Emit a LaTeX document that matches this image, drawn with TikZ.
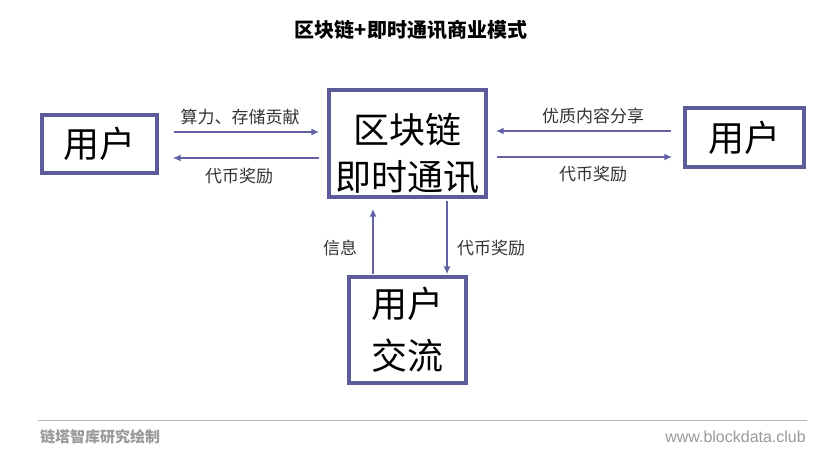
\documentclass[tikz,border=0pt]{standalone}
\usepackage{fontspec}
\setmainfont{Noto Sans CJK SC}
\newfontfamily\webfont{Liberation Sans}
\usetikzlibrary{arrows.meta,calc}
\definecolor{boxc}{HTML}{5C5C9A}
\definecolor{arrc}{HTML}{6262A2}
\definecolor{labc}{HTML}{333333}
\definecolor{footc}{HTML}{9A9A9A}
\definecolor{rulec}{HTML}{B4B4B4}
\tikzset{
  box/.style={draw=boxc, line width=3.4pt, inner sep=0pt, fill=white},
  boxtext/.style={inner sep=0pt, text=black, font=\fontsize{36}{36}\selectfont},
  lab/.style={inner sep=0pt, text=labc, font=\fontsize{17}{17}\selectfont},
  arr/.style={draw=arrc, line width=2pt, -{Latex[length=8pt,width=7pt]}},
}
\begin{document}
\begin{tikzpicture}[x=1pt,y=-1pt]
\fill[white] (0,0) rectangle (831,460);
\useasboundingbox (0,0) rectangle (831,460);

% title
\node[inner sep=0pt, font=\fontsize{20}{20}\selectfont\bfseries] (title) at (411,30) {区块链+即时通讯商业模式};

% boxes
\node[box, minimum width=115pt, minimum height=58pt, boxtext] (L) at (99.5,144) {用户};
\node[box, minimum width=157pt, minimum height=107pt] (C) at (407.5,143.5) {};
\node[boxtext, align=center, font=\fontsize{36}{47}\selectfont] (Ct) at (407.5,153.5) {区块链\\即时通讯};
\node[box, minimum width=119pt, minimum height=59pt, boxtext] (R) at (744.5,137.5) {用户};
\node[box, minimum width=117pt, minimum height=106pt, boxtext, align=center, font=\fontsize{36}{52}\selectfont] (B) at (407.5,330) {用户\\交流};

% left arrows
\draw[arr] ($(L.east)+(15,-12)$) -- ($(C.west)+(-8,-11.5)$);
\draw[arr] ($(C.west)+(-8,14.5)$) -- ($(L.east)+(14,14)$);
\node[lab] (l1) at (240,117) {算力、存储贡献};
\node[lab] (l2) at (239,176) {代币奖励};

% right arrows
\draw[arr] ($(R.west)+(-12,-6.5)$) -- ($(C.east)+(8,-12.5)$);
\draw[arr] ($(C.east)+(9,13.5)$) -- ($(R.west)+(-11,19.5)$);
\node[lab] (r1) at (593,116) {优质内容分享};
\node[lab] (r2) at (593,174) {代币奖励};

% vertical arrows
\draw[arr] ($(B.north)+(-34.5,-1)$) -- ($(C.south)+(-34.5,10)$);
\draw[arr] ($(C.south)+(39.5,2)$) -- ($(B.north)+(39.5,-1)$);
\node[lab] (v1) at (340,248) {信息};
\node[lab, anchor=west] (v2) at (457,248) {代币奖励};

% footer
\coordinate (fl) at (38,420);
\coordinate (fr) at (807,420);
\draw[rulec, line width=1pt] (fl) -- (fr);
\node[inner sep=0pt, anchor=west, text=footc, font=\fontsize{15}{15}\selectfont\bfseries] (f1) at (40,437) {链塔智库研究绘制};
\node[inner sep=0pt, anchor=east, text=footc, font=\webfont\fontsize{16}{16}\selectfont] (f2) at (806,437) {www.blockdata.club};
\end{tikzpicture}
\end{document}
